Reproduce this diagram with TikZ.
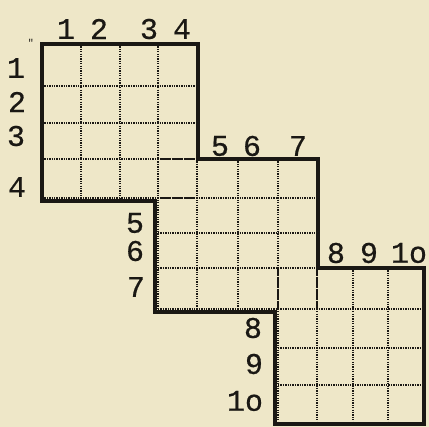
\documentclass[tikz,border=0pt]{standalone}
\usepackage{fontspec}
\setmonofont[AutoFakeBold=0.6]{Liberation Mono}
\definecolor{paper}{RGB}{238,231,200}
\definecolor{ink}{RGB}{26,24,20}
\begin{document}
\begin{tikzpicture}[x=1pt,y=-1pt,
  gridline/.style={line width=1.8pt, dash pattern=on 1.3pt off 1.1pt, color=ink},
  outline/.style={line width=3.4pt, color=ink, line join=miter},
  lbl/.style={font=\ttfamily\bfseries\fontsize{30}{30}\selectfont, text=ink, inner sep=0pt, anchor=center},
  tick/.style={font=\ttfamily\fontsize{10}{10}\selectfont, text=ink, inner sep=0pt}]
\fill[paper] (0,0) rectangle (429,427);
\useasboundingbox (0,0) rectangle (429,427);
% grid points
\foreach \xv [count=\i from 0] in {42,81,120,158,197,238,278,317,353,388,424}{
  \foreach \yv [count=\j from 0] in {44,86,123,159,198,233,268,309,348,385,424}{
    \coordinate (p\i-\j) at (\xv,\yv);
  }
}
% dotted grid lines of the three 4x4 grids
\foreach \o in {0,3,6}{
  \foreach \k in {0,...,4}{
    \pgfmathtruncatemacro\a{\o+\k}
    \pgfmathtruncatemacro\e{\o+4}
    \draw[gridline] (p\a-\o) -- (p\a-\e);
    \draw[gridline] (p\o-\a) -- (p\e-\a);
  }
}
% thick outline
\draw[outline] (42,44) -- (198,44) -- (198,159) -- (318,159) -- (318,268)
  -- (424,268) -- (424,424) -- (275,424) -- (275,312) -- (155,312)
  -- (155,201) -- (42,201) -- cycle;
% stray mark
\node[tick] (mk) at (31,43) {"};
% labels grid 1
\node[lbl] (t1) at (66,29) {1};
\node[lbl] (t2) at (99,29) {2};
\node[lbl] (t3) at (149,29) {3};
\node[lbl] (t4) at (182,29) {4};
\node[lbl] (l1) at (16,68) {1};
\node[lbl] (l2) at (17,102) {2};
\node[lbl] (l3) at (16,136) {3};
\node[lbl] (l4) at (17,187) {4};
% labels grid 2
\node[lbl] (t5) at (220,146) {5};
\node[lbl] (t6) at (252,146) {6};
\node[lbl] (t7) at (298,146) {7};
\node[lbl] (l5) at (135,223) {5};
\node[lbl] (l6) at (135,251) {6};
\node[lbl] (l7) at (136,287) {7};
% labels grid 3
\node[lbl] (t8) at (336,253) {8};
\node[lbl] (t9) at (369,253) {9};
\node[lbl] (t10) at (409,253) {1o};
\node[lbl] (l8) at (253,328) {8};
\node[lbl] (l9) at (254,364) {9};
\node[lbl] (l10) at (245,401) {1o};
\end{tikzpicture}
\end{document}
